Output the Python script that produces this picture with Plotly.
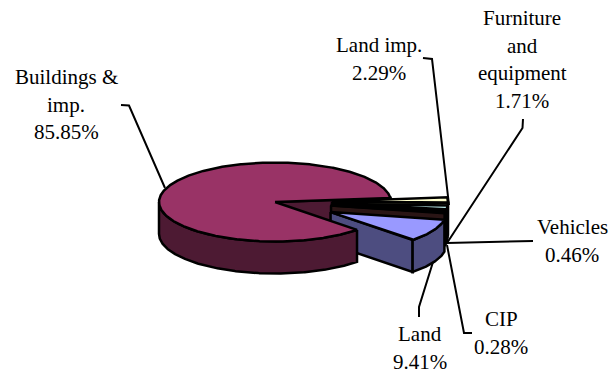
"""Capital assets by class, drawn as a tilted, exploded pie."""
import numpy as np
import plotly.graph_objects as go

# ---------------------------------------------------------------------------
# Data (clockwise order, starting at the Land slice)
# ---------------------------------------------------------------------------
categories = ["Land", "Buildings & imp.", "Land imp.", "Furniture and equipment", "Vehicles", "CIP"]
percents = [9.41, 85.85, 2.29, 1.71, 0.46, 0.28]
top_colors = ["#9999FF", "#993366", "#FFFFCC", "#CCFFFF", "#660066", "#FF8080"]
side_colors = ["#4D4D80", "#4D1A33", "#808066", "#668080", "#330033", "#2A1515"]
explode = [63, 0, 57, 57, 57, 57]

# ---------------------------------------------------------------------------
# Pie geometry (pixels on the 613x372 page)
# ---------------------------------------------------------------------------
CX, CY = 275, 202
RX, RY = 116, 39.5
DEPTH = 32
LAND_LOWER = -45  # lower edge of the Land slice, degrees ccw from east

FONT = dict(family="Liberation Serif", size=21, color="black")
LINE_H = 27.5

# label lines, centre x, first-line y
labels = [
    (["Buildings &", "imp.", "85.85%"], 66, 77),
    (["Land imp.", "2.29%"], 379, 45),
    (["Furniture", "and", "equipment", "1.71%"], 522, 18),
    (["Vehicles", "0.46%"], 572, 227),
    (["CIP", "0.28%"], 501, 319),
    (["Land", "9.41%"], 420, 334),
]

leaders = [
    ([121, 129, 165], [105, 105.5, 188]),
    ([423, 432, 449], [58, 59, 205]),
    ([523, 522.5, 447], [119, 128, 243]),
    ([447, 533], [243, 241]),
    ([447, 464, 472], [245, 333, 333]),
    ([433, 419, 419], [262, 307, 317]),
]


def arc(cx, cy, a0, a1, drop=0):
    n = max(int(abs(a1 - a0) * 2), 2)
    a = np.radians(np.linspace(a0, a1, n))
    return list(cx + RX * np.cos(a)), list(cy - RY * np.sin(a) + drop)


def poly(fig, xs, ys, color):
    fig.add_trace(go.Scatter(
        x=xs + xs[:1], y=ys + ys[:1], mode="lines", fill="toself", fillcolor=color,
        line=dict(color="black", width=2.5), hoverinfo="skip", showlegend=False,
    ))


def centre(i, a0, a1):
    mid = np.radians((a0 + a1) / 2)
    return CX + explode[i] * np.cos(mid), CY - explode[i] * RY / RX * np.sin(mid)


def draw_slice(fig, i, a0, a1):
    """Slice from a0 up to a1 (degrees ccw): cut wall, rim, then top face."""
    cx, cy = centre(i, a0, a1)
    ex = cx + RX * np.cos(np.radians(a0))
    ey = cy - RY * np.sin(np.radians(a0))
    poly(fig, [cx, ex, ex, cx], [cy, ey, ey + DEPTH, cy + DEPTH], side_colors[i])
    hi = min(a1, 0)
    if hi > a0:
        xs, ys = arc(cx, cy, hi, a0)
        xb, yb = arc(cx, cy, a0, hi, DEPTH)
        poly(fig, xs + xb, ys + yb, side_colors[i])
    xs, ys = arc(cx, cy, a0, a1)
    poly(fig, [cx] + xs, [cy] + ys, top_colors[i])


fig = go.Figure()

land_upper = LAND_LOWER + percents[0] * 3.6
bldg_far = LAND_LOWER - percents[1] * 3.6  # clockwise end of Buildings

# wall of the big slice, seen through the gap
ex = CX + RX * np.cos(np.radians(bldg_far))
ey = CY - RY * np.sin(np.radians(bldg_far))
poly(fig, [CX, ex, ex, CX], [CY, ey, ey + DEPTH, CY + DEPTH], side_colors[1])

# thin slices, back to front
upper = bldg_far + 360
for i in [2, 3, 4, 5]:
    lower = upper - percents[i] * 3.6
    draw_slice(fig, i, lower, upper)
    upper = lower

draw_slice(fig, 0, LAND_LOWER, land_upper)

# Buildings rim and top go last, they sit over Land's wall
xs, ys = arc(CX, CY, LAND_LOWER, -180)
xb, yb = arc(CX, CY, -180, LAND_LOWER, DEPTH)
poly(fig, xs + xb, ys + yb, side_colors[1])
xs, ys = arc(CX, CY, LAND_LOWER, bldg_far)
poly(fig, [CX] + xs, [CY] + ys, top_colors[1])

for lead_x, lead_y in leaders:
    fig.add_trace(go.Scatter(
        x=lead_x, y=lead_y, mode="lines", line=dict(color="black", width=2),
        hoverinfo="skip", showlegend=False,
    ))

annotations = []
for lines, x, y in labels:
    for k, text in enumerate(lines):
        annotations.append(dict(
            x=x, y=y + k * LINE_H, xref="x", yref="y", text=text, showarrow=False,
            xanchor="center", yanchor="middle", font=FONT,
        ))

fig.update_xaxes(range=[0, 613], visible=False)
fig.update_yaxes(range=[372, 0], visible=False)
fig.update_layout(
    width=613, height=372, margin=dict(l=0, r=0, t=0, b=0),
    paper_bgcolor="white", plot_bgcolor="white", annotations=annotations,
)

# page body margin would otherwise push the figure 8px in
fig.write_html(
    "out.html",
    config={"displayModeBar": False},
    post_script="document.body.style.margin = '0';",
)
